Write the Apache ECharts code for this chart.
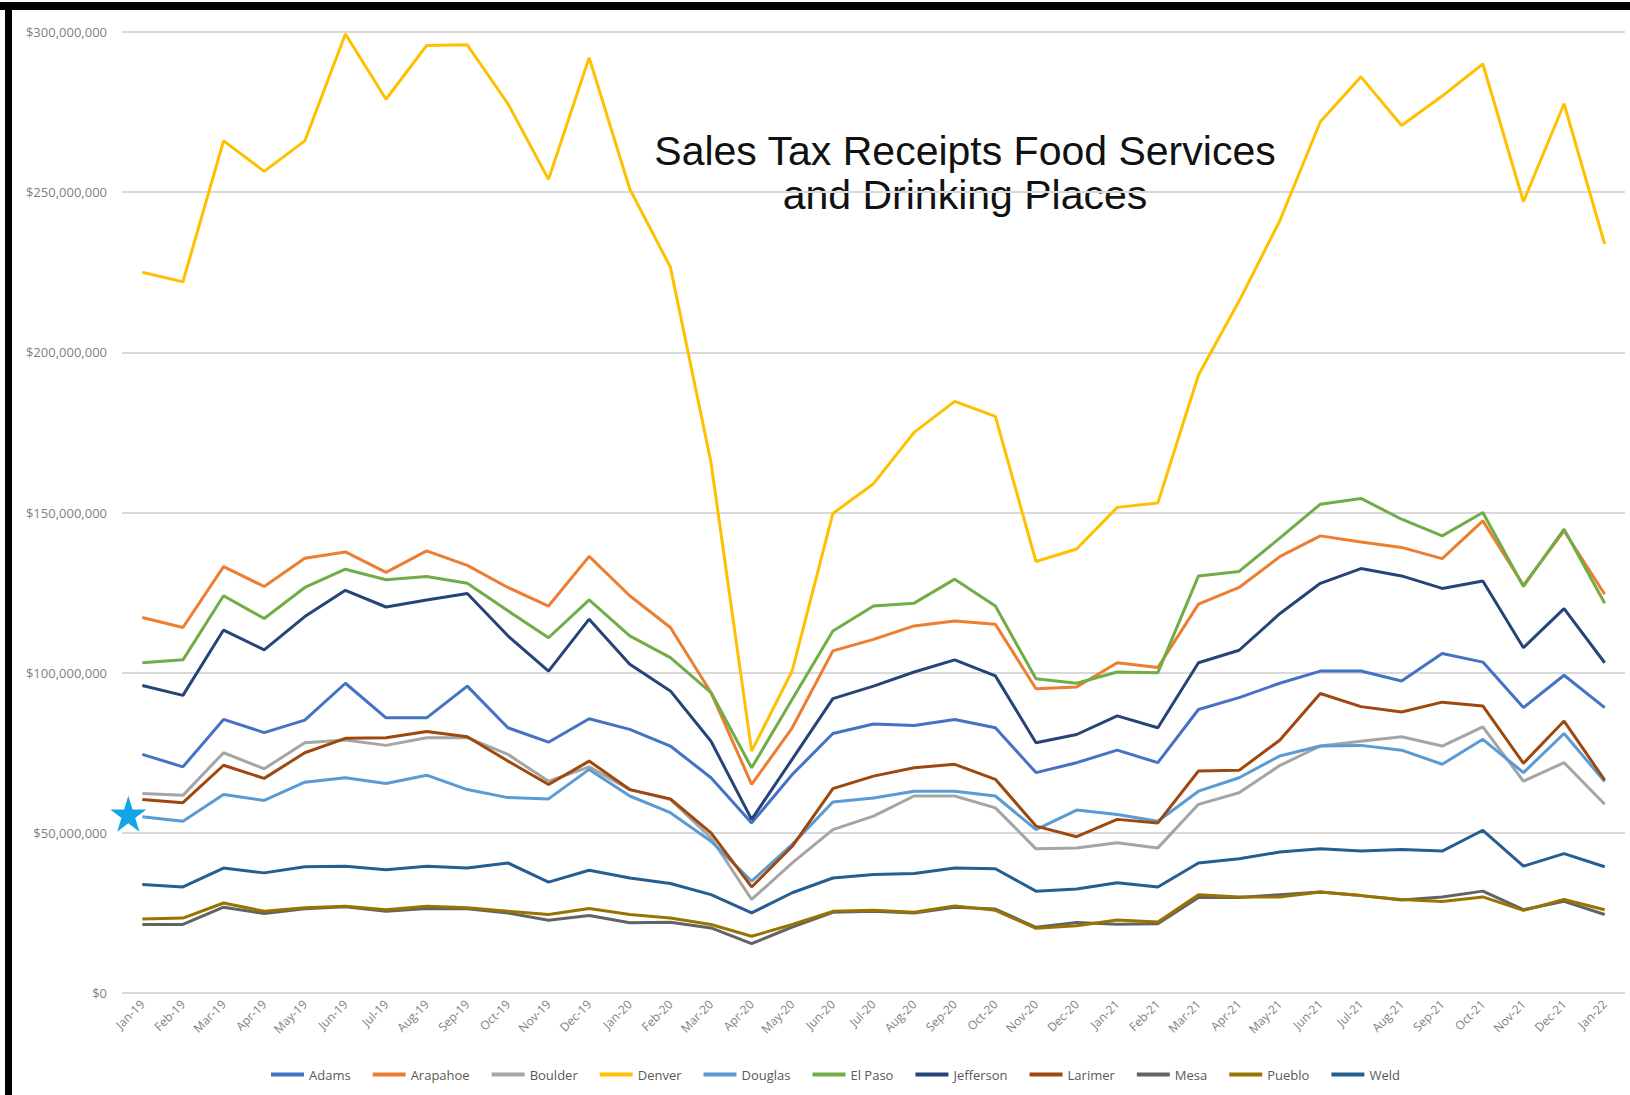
<!DOCTYPE html>
<html>
<head>
<meta charset="utf-8">
<title>Sales Tax Receipts Food Services and Drinking Places</title>
<script src="https://cdn.jsdelivr.net/npm/echarts@6/dist/echarts.min.js"></script>
<style>
  html, body { margin: 0; padding: 0; background: #fff; }
  #main { width: 1630px; height: 1095px; }
</style>
</head>
<body>
<div id="main"></div>
<script>
// monthly receipts, millions of dollars
var months = ['Jan-19','Feb-19','Mar-19','Apr-19','May-19','Jun-19','Jul-19','Aug-19','Sep-19','Oct-19','Nov-19','Dec-19',
  'Jan-20','Feb-20','Mar-20','Apr-20','May-20','Jun-20','Jul-20','Aug-20','Sep-20','Oct-20','Nov-20','Dec-20',
  'Jan-21','Feb-21','Mar-21','Apr-21','May-21','Jun-21','Jul-21','Aug-21','Sep-21','Oct-21','Nov-21','Dec-21','Jan-22'];

var adams = [74.5, 70.6, 85.4, 81.3, 85.2, 96.7, 85.9, 85.9, 95.8, 82.8, 78.3, 85.6,
  82.3, 77.1, 67.2, 53.1, 68.2, 81, 84, 83.5, 85.4, 82.8, 68.8, 71.9,
  75.8, 71.9, 88.5, 92.2, 96.7, 100.5, 100.5, 97.4, 106, 103.3, 89.1, 99.2, 89.1];
var arapahoe = [117.2, 114.1, 133.1, 126.9, 135.7, 137.7, 131.3, 138, 133.5, 126.6, 120.8, 136.3,
  124, 114.1, 93.8, 65.1, 82.8, 106.8, 110.4, 114.6, 116.1, 115.1, 95, 95.5,
  103.1, 101.6, 121.4, 126.6, 136.2, 142.7, 140.8, 139.1, 135.6, 147.4, 127.3, 144.3, 124.5];
var boulder = [62.3, 61.7, 75, 70, 78.1, 79, 77.3, 79.7, 79.7, 74.5, 66.1, 70.6,
  63.5, 60.4, 48.4, 29.2, 40.6, 51, 55.2, 61.5, 61.5, 57.8, 45, 45.3,
  46.9, 45.3, 58.9, 62.5, 71, 77.1, 78.6, 80, 77.1, 83.1, 66.1, 71.9, 58.9];
var denver = [225, 222, 266, 256.5, 266, 299.4, 279, 295.8, 296, 277.6, 254, 292,
  251, 226.6, 165.6, 75.5, 100.6, 149.7, 159, 175, 184.7, 180, 134.7, 138.6,
  151.6, 153, 192.9, 216, 241, 272, 286, 270.8, 280, 290, 247, 277.6, 233.8];
var douglas = [55, 53.6, 62, 60.1, 65.8, 67.2, 65.4, 68, 63.5, 61, 60.6, 69.8,
  61.5, 56.3, 47.4, 34.9, 46.4, 59.6, 60.9, 63, 63, 61.5, 51, 57.1,
  55.7, 53.6, 63, 67.2, 74, 77.1, 77.3, 75.8, 71.4, 79.2, 68.8, 81, 66];
var elPaso = [103.1, 104, 124, 116.9, 126.6, 132.3, 129, 130, 127.9, 119.3, 110.9, 122.7,
  111.5, 104.7, 93.8, 70.3, 91.7, 113, 120.8, 121.7, 129.2, 120.8, 98.1, 96.7,
  100.2, 100, 130.2, 131.6, 142, 152.6, 154.4, 147.9, 142.7, 150, 126.9, 144.8, 121.7];
var jefferson = [96, 92.9, 113.3, 107.1, 117.5, 125.7, 120.5, 122.7, 124.7, 111.5, 100.5, 116.7,
  102.6, 94.3, 78.6, 54.2, 73, 91.9, 95.8, 100.2, 104, 99, 78.1, 80.7,
  86.5, 82.8, 103.1, 107, 118.4, 127.9, 132.5, 130.2, 126.3, 128.6, 107.8, 120, 103.1];
var larimer = [60.4, 59.4, 71.1, 67, 75, 79.5, 79.7, 81.6, 80, 72.4, 65.1, 72.4,
  63.5, 60.6, 50, 33.1, 45.8, 63.8, 67.7, 70.3, 71.4, 66.7, 52.1, 48.8,
  54.2, 53.1, 69.3, 69.5, 78.9, 93.5, 89.4, 87.7, 90.8, 89.6, 71.7, 84.9, 66.5];
var mesa = [21.4, 21.4, 26.8, 24.8, 26.3, 26.9, 25.5, 26.4, 26.3, 25, 22.7, 24.2,
  21.9, 22.1, 20.3, 15.4, 20.6, 25.2, 25.5, 25, 26.8, 26.2, 20.5, 22,
  21.5, 21.6, 29.8, 29.8, 30.7, 31.5, 30.4, 29, 30, 31.8, 26, 28.6, 24.5];
var pueblo = [23.1, 23.4, 28.1, 25.5, 26.6, 27.1, 26, 27.1, 26.6, 25.5, 24.5, 26.4,
  24.5, 23.4, 21.4, 17.7, 21.4, 25.5, 25.8, 25.2, 27.2, 25.8, 20.2, 21,
  22.8, 22.2, 30.7, 30, 30, 31.5, 30.4, 29.2, 28.6, 30, 25.8, 29.2, 26];
var weld = [33.9, 33.1, 39, 37.5, 39.4, 39.6, 38.5, 39.6, 39, 40.6, 34.6, 38.3,
  35.9, 34.2, 30.7, 25, 31.3, 35.9, 37, 37.3, 39, 38.8, 31.8, 32.5,
  34.4, 33.1, 40.6, 41.9, 44, 45, 44.3, 44.8, 44.3, 50.8, 39.6, 43.5, 39.4];

var counties = ['Adams','Arapahoe','Boulder','Denver','Douglas','El Paso','Jefferson','Larimer','Mesa','Pueblo','Weld'];
var values = [adams, arapahoe, boulder, denver, douglas, elPaso, jefferson, larimer, mesa, pueblo, weld];
var colors = ['#4472C4','#ED7D31','#A5A5A5','#FFC000','#5B9BD5','#70AD47','#264478','#9E480E','#636363','#997300','#255E91'];

var starPath = 'path://M50,0 L61.2,34.5 L97.6,34.5 L68.2,55.9 L79.4,90.5 L50,69.1 L20.6,90.5 L31.8,55.9 L2.4,34.5 L38.8,34.5 Z';

var chart = echarts.init(document.getElementById('main'), null, { renderer: 'svg' });

var series = counties.map(function (name, i) {
    var s = {
        name: name,
        type: 'line',
        data: values[i].map(function (v) { return Math.round(v * 1e6); }),
        showSymbol: false,
        symbol: 'none',
        lineStyle: { width: 3, color: colors[i] },
        itemStyle: { color: colors[i] },
        animation: false
    };
    if (name === 'Douglas') {
        // the blue star marker next to the first Douglas point
        s.markPoint = {
            symbol: starPath,
            symbolSize: 36,
            symbolOffset: [-14, -3],
            itemStyle: { color: '#13A6E6' },
            label: { show: false },
            data: [{ coord: [0, Math.round(douglas[0] * 1e6)] }]
        };
    }
    return s;
});

chart.setOption({
    backgroundColor: '#ffffff',
    animation: false,
    color: colors,
    grid: { left: 122, right: 5, top: 32, bottom: 102, containLabel: false },
    graphic: [
        { type: 'rect', left: 0, top: 2, shape: { width: 1630, height: 8 }, style: { fill: '#000' } },
        { type: 'rect', left: 5, top: 2, shape: { width: 7, height: 1093 }, style: { fill: '#000' } },
        {
            type: 'text', x: 965, y: 129,
            style: {
                text: 'Sales Tax Receipts Food Services\nand Drinking Places',
                font: '41px "Liberation Sans", Arial, sans-serif',
                fill: '#111',
                align: 'center',
                verticalAlign: 'top',
                lineHeight: 44
            }
        }
    ],
    legend: {
        data: counties,
        left: 266,
        top: 1063,
        icon: 'rect',
        itemWidth: 33,
        itemHeight: 4,
        itemGap: 22,
        textStyle: { fontSize: 13, color: '#595959', fontFamily: 'Open Sans' }
    },
    xAxis: {
        type: 'category',
        data: months,
        boundaryGap: true,
        axisLine: { show: false },
        axisTick: { show: false },
        axisLabel: {
            rotate: 45,
            interval: 0,
            margin: 9,
            fontSize: 12,
            color: '#7f7f7f',
            fontFamily: 'Open Sans'
        }
    },
    yAxis: {
        type: 'value',
        min: 0,
        max: 300000000,
        interval: 50000000,
        axisLine: { show: false },
        axisTick: { show: false },
        splitLine: { lineStyle: { color: '#d9d9d9', width: 2 } },
        axisLabel: {
            margin: 15,
            fontSize: 13,
            color: '#7f7f7f',
            fontFamily: 'Open Sans',
            formatter: function (v) { return '$' + v.toLocaleString('en-US'); }
        }
    },
    series: series
});
</script>
</body>
</html>
